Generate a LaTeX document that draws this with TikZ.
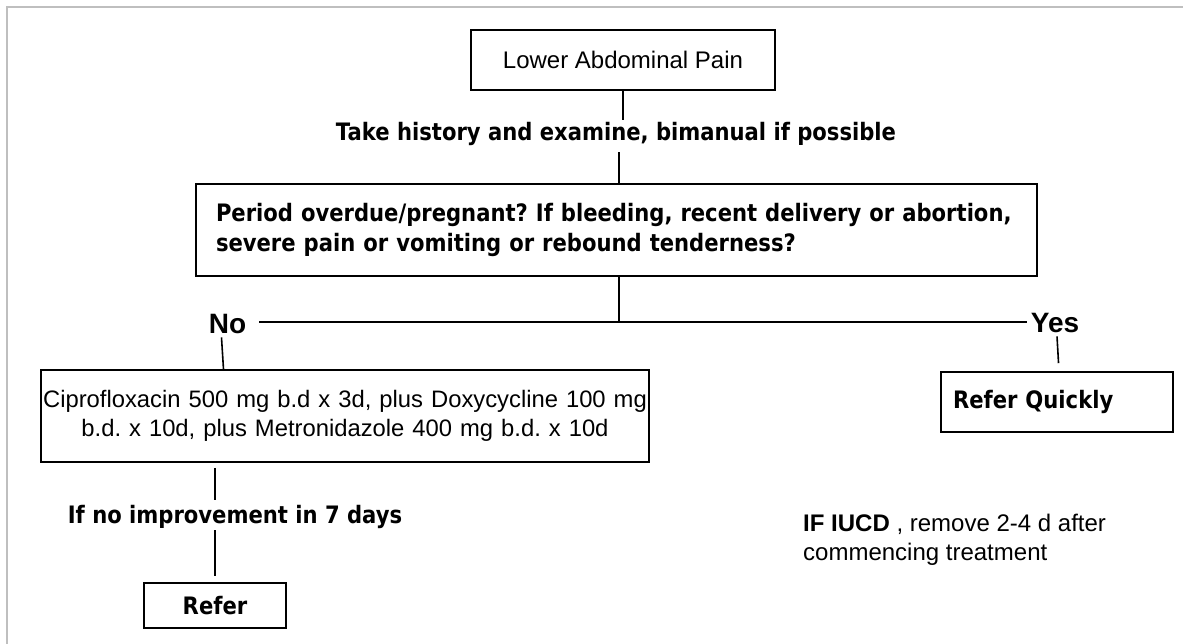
\documentclass[tikz,border=0pt]{standalone}
\usepackage{fontspec}
\setmainfont{Liberation Sans}
\newfontfamily\handfont[FakeStretch=0.88]{DejaVu Sans}
\usepackage{tikz}
\frenchspacing

\begin{document}
\begin{tikzpicture}[x=1pt, y=-1pt,
    box/.style={draw, line width=1.6pt, inner sep=0pt},
    hand/.style={font=\handfont\bfseries\fontsize{24}{30}\selectfont},
    plain/.style={font=\fontsize{24}{29}\selectfont},
    line/.style={line width=1.6pt}]
\useasboundingbox (0,0) rectangle (1183,644);
% frame cut at the right and bottom
\draw[black!25, line width=2pt] (7,644) -- (7,7.5) -- (1183,7.5);

% Start box
\node[box, plain, minimum width=304pt, minimum height=60pt] (LowerPain) at (623,60) {Lower Abdominal Pain};
\node[hand, anchor=base, inner sep=0pt, text height=21pt, text depth=11pt] (History) at (616,141) {Take history and examine, bimanual if possible};
\node[box, hand, align=left, text width=801pt, inner xsep=20pt, minimum height=92pt] (PeriodQ) at (616.5,230) {
    \mbox{Period overdue/pregnant? If bleeding, recent delivery or abortion,}\\
    \mbox{severe pain or vomiting or rebound tenderness?}};

% Split into No / Yes
\coordinate (Split) at (619,322);
\node[plain, font=\bfseries\fontsize{28}{30}\selectfont, anchor=base, inner sep=4pt] (No) at (227.5,333) {No};
\node[plain, font=\bfseries\fontsize{28}{30}\selectfont, anchor=base, inner sep=4pt] (Yes) at (1055,332) {Yes};

% No branch
\node[box, plain, align=center, text width=608pt, inner xsep=0pt, minimum height=92pt] (Cipro) at (345,416) {
    \mbox{\fontsize{23.8}{29}\selectfont Ciprofloxacin 500 mg b.d x 3d, plus Doxycycline 100 mg}\\
    \mbox{\fontsize{23.8}{29}\selectfont b.d. x 10d, plus Metronidazole 400 mg b.d. x 10d}};
\node[hand, anchor=base, inner sep=0pt, text height=23pt, text depth=7pt] (Improve) at (235,523) {If no improvement in 7 days};
\node[box, hand, minimum width=142pt, minimum height=45pt] (Refer) at (215,605.5) {Refer};

% Yes branch
\node[box, hand, align=left, text width=208pt, inner xsep=12pt, minimum height=60pt] (Quick) at (1057,402) {Refer Quickly};

% Note
\node[plain, anchor=base west, align=left, inner sep=0pt] (Note) at (803,560) {\textbf{IF IUCD} , remove 2-4 d after\\commencing treatment};

% Connectors
\draw[line] (LowerPain.south) -- (LowerPain.south |- History.north);
\draw[line] (History.south -| Split) -- (Split |- PeriodQ.north);
\draw[line] (PeriodQ.south -| Split) -- (Split);
\draw[line, shorten <=9pt] (No.east |- Split) -- (Yes.west |- Split);
\draw[line] ([xshift=-6pt]No.south) -- ([xshift=-4pt]No.south |- Cipro.north);
\draw[line, shorten >=8pt] ([xshift=2pt]Yes.south) -- ([xshift=4pt]Yes.south |- Quick.north);
\draw[line, shorten <=5pt] (Cipro.south -| Refer.north) -- (Refer.north |- Improve.north);
\draw[line, shorten >=6pt] (Improve.south -| Refer.north) -- (Refer.north);
\end{tikzpicture}
\end{document}
